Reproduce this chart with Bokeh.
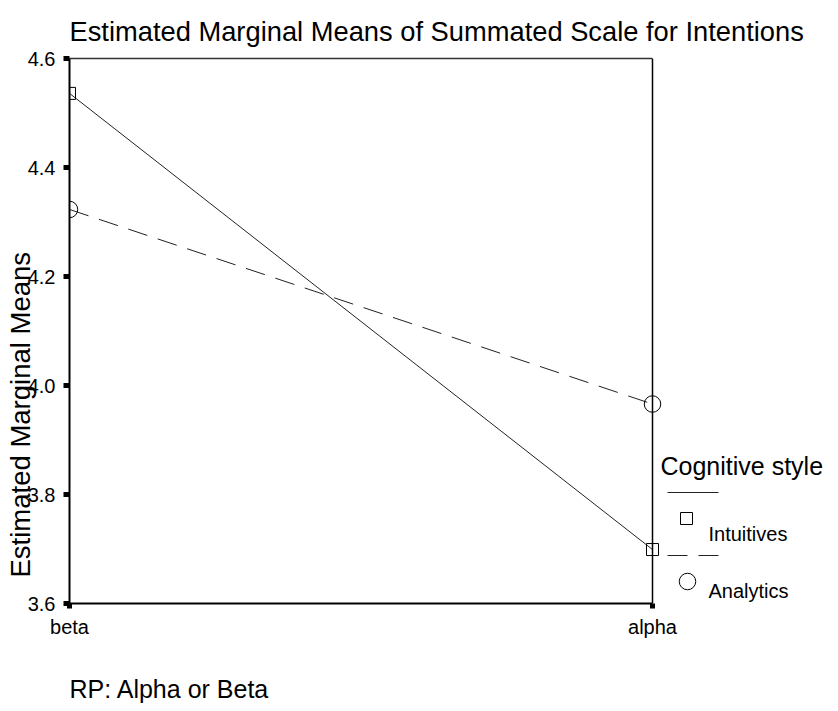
import math
from bokeh.plotting import figure
from bokeh.models import Range1d, FixedTicker, NumeralTickFormatter, LinearAxis, Span, Label, Title
from bokeh.embed import file_html
from bokeh.resources import INLINE

# ---------------- data ----------------
rp_levels = ["beta", "alpha"]
intuitives = [4.536, 3.699]
analytics = [4.323, 3.966]
y_ticks = [3.6, 3.8, 4.0, 4.2, 4.4, 4.6]
series_names = ["Intuitives", "Analytics"]
title_text = "Estimated Marginal Means of Summated Scale for Intentions"
y_title = "Estimated Marginal Means"
x_title = "RP: Alpha or Beta"
legend_title = "Cognitive style"

# ---------------- layout (pixels) ----------------
W, HC = 838, 711
L, T = 69, 58
FW, FH = W - L, 545
UNIT_X = 583          # px per x unit (beta -> alpha)
Y0, Y1 = 3.6, 4.6
FONT = "Liberation Sans"


def dx(wx):
    return (wx - L) / UNIT_X


def dy(wy):
    return Y1 - (wy - T) / FH * (Y1 - Y0)


xs = list(range(len(rp_levels)))

p = figure(frame_width=FW, frame_height=FH,
           min_border_left=L, min_border_top=T, min_border_right=0,
           min_border_bottom=HC - T - FH,
           x_range=Range1d(0, FW / UNIT_X), y_range=Range1d(Y0, Y1),
           output_backend="svg", toolbar_location=None, tools="")
p.outline_line_color = None
p.xgrid.grid_line_color = None
p.ygrid.grid_line_color = None
p.background_fill_color = "white"
p.border_fill_color = "white"

# title
p.title.text = title_text
p.title.align = "left"
p.title.text_font = FONT
p.title.text_font_size = "27.3px"
p.title.text_font_style = "normal"
p.title.text_color = "black"
p.title.standoff = 23

# left axis
ya = p.yaxis[0]
ya.ticker = FixedTicker(ticks=y_ticks)
ya.formatter = NumeralTickFormatter(format="0.0")
ya.major_label_text_font = FONT
ya.major_label_text_font_size = "20px"
ya.major_label_text_color = "black"
ya.major_tick_out = 6
ya.major_tick_in = 0
ya.major_tick_line_width = 5
ya.major_tick_line_color = "black"
ya.minor_tick_out = 0
ya.minor_tick_in = 0
ya.axis_line_width = 2
ya.axis_line_color = "black"
ya.major_label_standoff = 8

# bottom axis
xa = p.xaxis[0]
xa.bounds = (0, 1)
xa.ticker = FixedTicker(ticks=xs)
xa.major_label_overrides = {i: name for i, name in zip(xs, rp_levels)}
xa.major_label_text_font = FONT
xa.major_label_text_font_size = "20px"
xa.major_label_text_color = "black"
xa.major_tick_out = 5
xa.major_tick_in = 0
xa.major_tick_line_width = 5
xa.major_tick_line_color = "black"
xa.minor_tick_out = 0
xa.minor_tick_in = 0
xa.axis_line_width = 2
xa.axis_line_color = "black"
xa.major_label_standoff = 7

# top frame line
top_axis = LinearAxis(bounds=(0, 1), ticker=FixedTicker(ticks=[]),
                      major_label_text_font_size="0px", major_tick_out=0,
                      minor_tick_out=0, axis_line_width=1.5, axis_line_color="#333")
p.add_layout(top_axis, "above")
# right frame line
p.add_layout(Span(location=1, dimension="height", line_color="black", line_width=1.5))

# axis titles as side titles
p.add_layout(Title(text=x_title, align="left", text_font=FONT, text_font_size="25px",
                   text_font_style="normal", text_color="black", standoff=64), "below")
p.add_layout(Title(text=y_title, align="left", offset=26, text_font=FONT,
                   text_font_size="27.5px", text_font_style="normal", text_color="black",
                   standoff=-22), "left")

# data lines
p.line(xs, intuitives, line_color="#222222", line_width=1)
p.scatter(xs, intuitives, marker="square", size=12, fill_color=None,
          line_color="black", line_width=1)
p.line(xs, analytics, line_color="#222222", line_width=1, line_dash="20 11")
p.scatter(xs, analytics, marker="circle", size=16.5, fill_color=None,
          line_color="black", line_width=1)

# legend (drawn manually, SPSS style)
p.line([dx(667), dx(718)], [dy(492), dy(492)], line_color="#222222", line_width=1)
p.scatter([dx(686)], [dy(518)], marker="square", size=12, fill_color=None,
          line_color="black", line_width=1)
p.line([dx(667), dx(718)], [dy(555), dy(555)], line_color="#222222", line_width=1,
       line_dash="20 11")
p.scatter([dx(687)], [dy(581)], marker="circle", size=16.5, fill_color=None,
          line_color="black", line_width=1)


def add_label(x, y, text, size):
    p.add_layout(Label(x=x, y=y, text=text, text_align="left",
                       text_baseline="alphabetic", text_font=FONT,
                       text_font_size=size, text_color="black"))


add_label(dx(660), dy(465), legend_title, "25px")
add_label(dx(708), dy(533), series_names[0], "20px")
add_label(dx(708), dy(590), series_names[1], "20px")

open("out.html", "w").write(file_html(p, INLINE))
